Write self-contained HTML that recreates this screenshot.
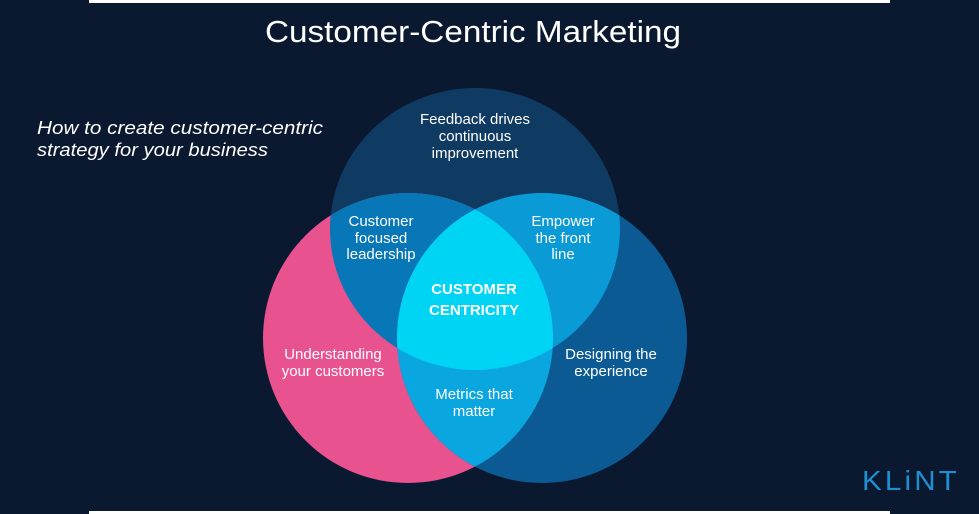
<!DOCTYPE html>
<html><head><meta charset="utf-8"><style>
html,body{margin:0;padding:0;background:#0a1830;}
svg{display:block}
text{font-family:"Liberation Sans",sans-serif;fill:#fff}
</style></head><body>
<svg width="979" height="514" viewBox="0 0 979 514" xmlns="http://www.w3.org/2000/svg">
<defs>
<clipPath id="cT"><ellipse cx="475" cy="229" rx="145" ry="141"/></clipPath>
<clipPath id="cP"><circle cx="408" cy="338" r="145"/></clipPath>
<clipPath id="cR"><circle cx="542" cy="338" r="145"/></clipPath>
</defs>
<rect width="979" height="514" fill="#0a1830"/>
<rect x="89" y="0" width="801" height="3" fill="#fff"/>
<rect x="89" y="511" width="801" height="3" fill="#fff"/>
<ellipse cx="475" cy="229" rx="145" ry="141" fill="#0f3a62"/>
<circle cx="408" cy="338" r="145" fill="#e8528e"/>
<circle cx="542" cy="338" r="145" fill="#0b5a93"/>
<g clip-path="url(#cT)"><circle cx="408" cy="338" r="145" fill="#0777b8"/><circle cx="542" cy="338" r="145" fill="#0a9ad6"/></g>
<g clip-path="url(#cP)"><circle cx="542" cy="338" r="145" fill="#0aa6e0"/></g>
<g clip-path="url(#cP)"><g clip-path="url(#cR)"><ellipse cx="475" cy="229" rx="145" ry="141" fill="#00d4f4"/></g></g>
<text x="473" y="42" font-size="31" text-anchor="middle" textLength="416" lengthAdjust="spacingAndGlyphs">Customer-Centric Marketing</text>
<text x="37" y="134" font-size="18" font-style="italic" textLength="286" lengthAdjust="spacingAndGlyphs">How to create customer-centric</text>
<text x="37" y="156" font-size="18" font-style="italic" textLength="231" lengthAdjust="spacingAndGlyphs">strategy for your business</text>
<g font-size="15" text-anchor="middle">
<text x="475" y="124">Feedback drives</text>
<text x="475" y="141">continuous</text>
<text x="475" y="158">improvement</text>
<text x="381" y="226">Customer</text>
<text x="381" y="243">focused</text>
<text x="381" y="259">leadership</text>
<text x="563" y="226">Empower</text>
<text x="563" y="243">the front</text>
<text x="563" y="259">line</text>
<text x="333" y="359">Understanding</text>
<text x="333" y="376">your customers</text>
<text x="611" y="359">Designing the</text>
<text x="611" y="376">experience</text>
<text x="474" y="399">Metrics that</text>
<text x="474" y="416">matter</text>
</g>
<g font-size="15" font-weight="bold" text-anchor="middle">
<text x="474" y="294">CUSTOMER</text>
<text x="474" y="315">CENTRICITY</text>
</g>
<text x="862" y="490" font-size="28" letter-spacing="3" style="fill:#1e8fd0" textLength="98" lengthAdjust="spacingAndGlyphs">KLiNT</text>
</svg>
</body></html>
